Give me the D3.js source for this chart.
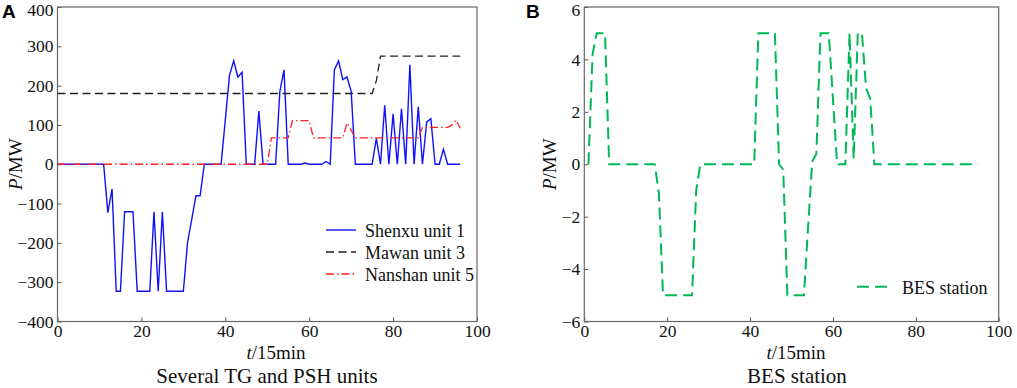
<!DOCTYPE html>
<html><head><meta charset="utf-8">
<script src="https://cdn.jsdelivr.net/npm/d3@7"></script>
<style>
body{margin:0;background:#fff;}
svg{display:block;}
</style></head>
<body>
<svg id="c" width="1017" height="388"></svg>
<script>
// ---- Data ----
const tA = d3.range(0, 97);            // time steps panel A
const shenxu = [0,0,0,0,0,0,0,0,0,0,0,0,
  -123,-63,-323,-323,-121,-121,-121,-323,-323,-323,-323,-121,-323,-121,-323,-323,-323,-323,-323,
  -199,-140,-80,-80,0,0,0,0,0,113,226,263,222,234,0,0,0,135,0,0,0,0,185,240,
  0,0,0,0,3,0,0,0,0,7,0,240,263,215,222,186,0,0,0,0,0,
  66,0,150,0,128,0,141,0,253,0,146,0,107,116,0,0,38,0,0,0,0];
const mawan = tA.map(t => t <= 75 ? 180 : (t === 76 ? 212 : 275));
const nanshan = [0,0,0,0,0,0,0,0,0,0,0,0,0,0,0,0,0,0,0,0,0,0,0,0,0,0,0,0,0,0,
  0,0,0,0,0,0,0,0,0,0,0,0,0,0,0,0,0,0,0,0,0,
  67,67,67,67,67,111,111,111,111,111,67,67,67,67,67,67,67,67,105,86,
  67,67,67,67,67,67,67,67,67,67,67,67,67,67,67,67,94,94,94,94,94,94,94,100,112,92];
const tB = d3.range(1, 96);
const bes = [0,4.2,5,5,5,0,0,0,0,0,0,0,0,0,0,0,0,-1.1,-5,-5,-5,-5,-5,-5,-5,-5,-1.0,0,
  0,0,0,0,0,0,0,0,0,0,0,0,0,5,5,5,5,5,0,-0.2,-5,-5,-5,-5,-5,-2.4,0.1,0.4,5,5,5,2.5,
  0,0,0,5,0.2,5,5,2.9,2.5,0,0,0,0,0,0,0,0,0,0,0,0,0,0,0,0,0,0,0,0,0,0,0,0,0,0,0];
const xTicks = [0,20,40,60,80,100];
const yTicksA = [-400,-300,-200,-100,0,100,200,300,400];
const yTicksB = [-6,-4,-2,0,2,4,6];
const legendA = ["Shenxu unit 1","Mawan unit 3","Nanshan unit 5"];
const legendB = ["BES station"];

const SERIF = "'Liberation Serif','Times New Roman',serif";
const SANS = "'Liberation Sans',Arial,sans-serif";
const svg = d3.select("#c");
const TOP = 7, BOT = 321.5;

function panel(o){
  const g = svg.append("g");
  const x = d3.scaleLinear().domain([0,100]).range([o.x0, o.x1]);
  const y = d3.scaleLinear().domain(o.yDom).range([BOT, TOP]);
  const ax = g.append("g").attr("transform",`translate(0,${BOT})`)
    .call(d3.axisBottom(x).tickValues(xTicks).tickSizeInner(-4).tickSizeOuter(0).tickPadding(3));
  const ay = g.append("g").attr("transform",`translate(${o.x0},0)`)
    .call(d3.axisLeft(y).tickValues(o.yTicks).tickSizeInner(-4).tickSizeOuter(0).tickPadding(4));
  [ax,ay].forEach(a=>{
    a.select(".domain").remove();
    a.selectAll("line").attr("stroke","#555");
    a.selectAll("text").style("font-family",SERIF).style("font-size","17.5px").attr("fill","#111");
  });
  ax.selectAll("text").attr("dy","0.71em");
  // keep the topmost tick label inside the picture
  ay.selectAll(".tick text").filter(d => d === o.yDom[1]).attr("dy","0.5em");
  g.append("rect").attr("x",o.x0).attr("y",TOP).attr("width",o.x1-o.x0).attr("height",BOT-TOP)
    .attr("fill","none").attr("stroke","#666").attr("stroke-width",1.2);
  o.series.forEach(s=>{
    g.append("path").datum(s.t.map((t,i)=>[t,s.v[i]]))
      .attr("fill","none").attr("stroke",s.color).attr("stroke-width",s.w)
      .attr("stroke-dasharray",s.dash||null)
      .attr("d", d3.line().x(d=>x(d[0])).y(d=>y(d[1])));
  });
  o.series.forEach((s,i)=>{
    const ly = o.leg.y + i*22;
    g.append("line").attr("x1",o.leg.x).attr("x2",o.leg.x+o.leg.len).attr("y1",ly).attr("y2",ly)
      .attr("stroke",s.color).attr("stroke-width",s.w).attr("stroke-dasharray",s.dash||null);
    g.append("text").attr("x",o.leg.tx).attr("y",ly+7).style("font-family",SERIF).style("font-size","18px")
      .attr("fill","#111").text(s.name);
  });
  const yl = g.append("text").attr("transform",`translate(${o.ylx},${(TOP+BOT)/2}) rotate(-90)`)
    .attr("text-anchor","middle").style("font-family",SERIF).style("font-size","19px").attr("fill","#111");
  yl.append("tspan").attr("font-style","italic").text("P");
  yl.append("tspan").text("/MW");
  const xl = g.append("text").attr("x",o.xlx).attr("y",359).attr("text-anchor","middle")
    .style("font-family",SERIF).style("font-size","19px").attr("fill","#111");
  xl.append("tspan").attr("font-style","italic").text("t");
  xl.append("tspan").text("/15min");
  g.append("text").attr("x",o.subx).attr("y",383).attr("text-anchor","middle")
    .style("font-family",SERIF).style("font-size","21px").attr("fill","#111").text(o.sub);
  g.append("text").attr("x",o.labx).attr("y",18).style("font-family",SANS)
    .style("font-weight","bold").style("font-size","19px").attr("fill","#000").text(o.lab);
}

panel({x0:57.5, x1:477, yDom:[-400,400], yTicks:yTicksA, ylx:22, xlx:276, subx:267, sub:"Several TG and PSH units", labx:2, lab:"A",
  leg:{x:326,len:30,tx:365,y:230},
  series:[
    {name:legendA[0], t:tA, v:shenxu, color:"#1010ff", w:1.4},
    {name:legendA[1], t:tA, v:mawan, color:"#222", w:1.3, dash:"8,4.5"},
    {name:legendA[2], t:tA, v:nanshan, color:"#ff2020", w:1.3, dash:"8,3,1.5,3"}
  ]});
panel({x0:584.3, x1:998.7, yDom:[-6,6], yTicks:yTicksB, ylx:556, xlx:796, subx:797, sub:"BES station", labx:526, lab:"B",
  leg:{x:857,len:32,tx:902,y:286.7},
  series:[
    {name:legendB[0], t:tB, v:bes, color:"#00b956", w:2, dash:"12,6"}
  ]});
</script>
</body></html>
